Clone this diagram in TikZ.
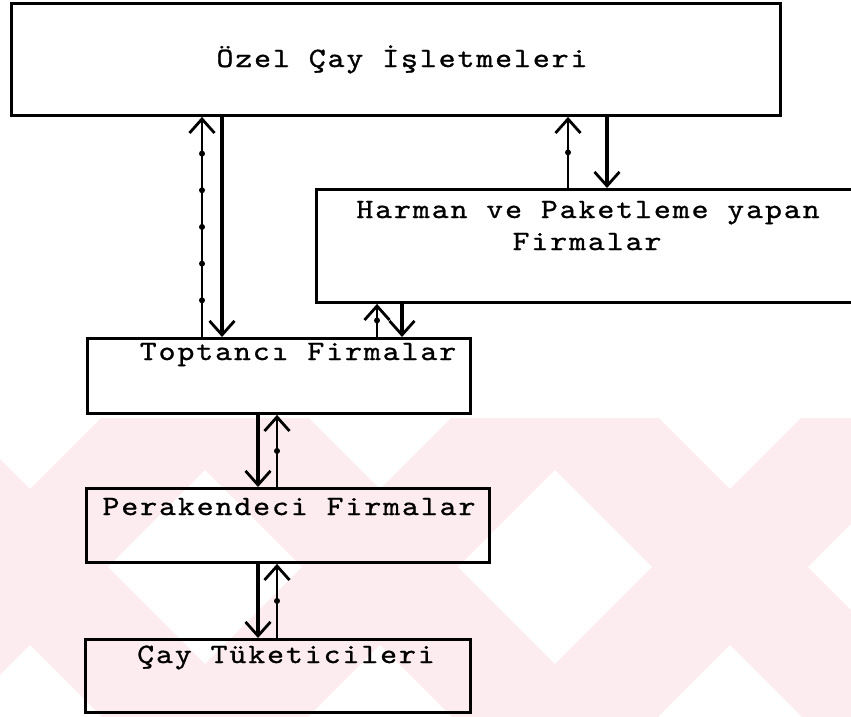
\documentclass[tikz,border=0pt]{standalone}
\usepackage{graphicx}
\usepackage{fontspec}
\newfontfamily\tw{lmmono10-regular.otf}[LetterSpace=6,FakeBold=0.9]
\newcommand\twtext[1]{\scalebox{1.15}[1]{#1}}
\usetikzlibrary{arrows.meta,decorations.markings}
\definecolor{wm}{RGB}{253,236,239}
\begin{document}
\begin{tikzpicture}[x=1pt,y=-1pt,
  box/.style={draw, line width=2.9pt, inner sep=0pt, anchor=north west},
  lbl/.style={font=\tw\fontsize{28}{34}\selectfont, inner sep=0pt, anchor=base},
  flow/.style={line width=3.1pt, -{Straight Barb[length=14pt,width=25pt,line width=2.8pt]}},
  info/.style={line width=1.9pt, -{Straight Barb[length=14pt,width=25pt,line width=2.8pt]}},
  dotone/.style={postaction={decorate,decoration={markings,
      mark=at position 0.5 with {\fill (0,0) circle (3pt);}}}},
  dotsix/.style={postaction={decorate,decoration={markings,
      mark=at position 0.1667 with {\fill (0,0) circle (3pt);},
      mark=at position 0.3333 with {\fill (0,0) circle (3pt);},
      mark=at position 0.5 with {\fill (0,0) circle (3pt);},
      mark=at position 0.6667 with {\fill (0,0) circle (3pt);},
      mark=at position 0.8333 with {\fill (0,0) circle (3pt);}}}},
  wmband/.style={draw=wm, line width=110pt, line cap=butt}
]
\clip (0,0) rectangle (851,716);
\fill[white] (0,0) rectangle (851,716);
% background watermark
\begin{scope}
\clip (0,418) rectangle (851,716);
\foreach \c in {30,380,730}{
  \draw[wmband] (\c-250,317) -- (\c+250,817);
  \draw[wmband] (\c+250,317) -- (\c-250,817);
}
\end{scope}
% boxes
\node[box, minimum width=769pt, minimum height=112pt] (A) at (10,2) {};
\node[box, minimum width=543pt, minimum height=113pt] (B) at (315,188) {};
\node[box, minimum width=383pt, minimum height=75pt] (C) at (86,337) {};
\node[box, minimum width=403pt, minimum height=74pt] (D) at (85,487) {};
\node[box, minimum width=385pt, minimum height=73pt] (E) at (84,638) {};
% texts
\node[lbl] (tA) at (402,67) {\twtext{Özel Çay İşletmeleri}};
\node[lbl] (tB1) at (588,218) {\twtext{Harman ve Paketleme yapan}};
\node[lbl] (tB2) at (587,250) {\twtext{Firmalar}};
\node[lbl] (tC) at (298,360) {\twtext{Toptancı Firmalar}};
\node[lbl] (tD) at (289,515) {\twtext{Perakendeci Firmalar}};
\node[lbl] (tE) at (286,663) {\twtext{Çay Tüketicileri}};
% connectors
\draw[flow] (A.south -| 222,0) -- (C.north -| 222,0);
\draw[info, dotsix] (C.north -| 202,0) -- (A.south -| 202,0);
\draw[info, dotone] (B.north -| 568,0) -- (A.south -| 568,0);
\draw[flow] (A.south -| 607,0) -- (B.north -| 607,0);
\draw[info, dotone] (C.north -| 377,0) -- (B.south -| 377,0);
\draw[flow] (B.south -| 402,0) -- (C.north -| 402,0);
\draw[flow] (C.south -| 258,0) -- (D.north -| 258,0);
\draw[info, dotone] (D.north -| 277,0) -- (C.south -| 277,0);
\draw[flow] (D.south -| 258,0) -- (E.north -| 258,0);
\draw[info, dotone] (E.north -| 277,0) -- (D.south -| 277,0);
\end{tikzpicture}
\end{document}
